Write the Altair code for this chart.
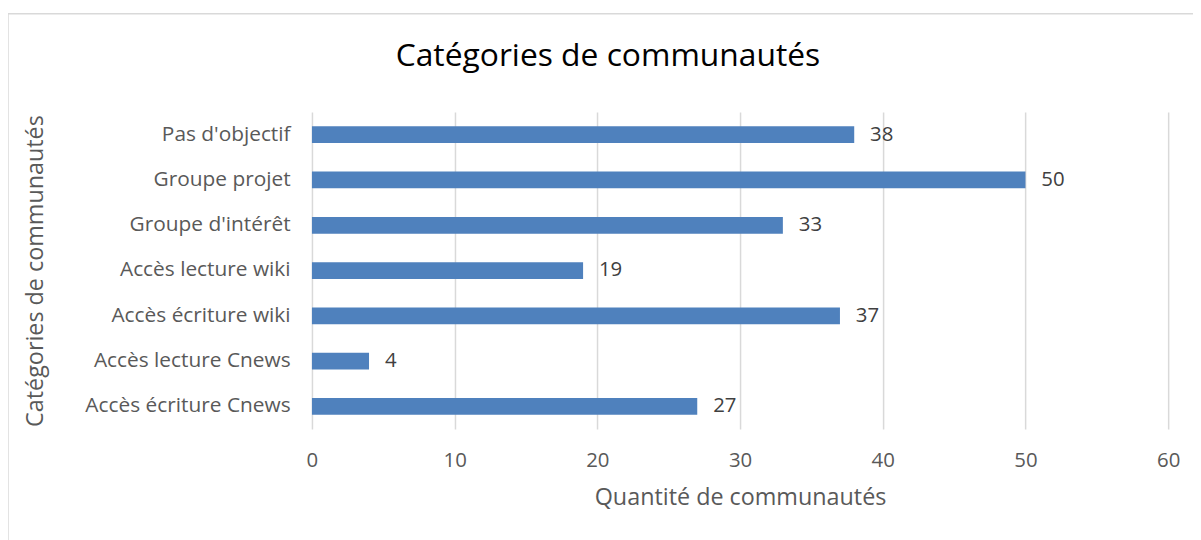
import altair as alt
import pandas as pd

categories = ["Pas d'objectif", "Groupe projet", "Groupe d'intérêt", "Accès lecture wiki",
              "Accès écriture wiki", "Accès lecture Cnews", "Accès écriture Cnews"]
values = [38, 50, 33, 19, 37, 4, 27]
x_ticks = [0, 10, 20, 30, 40, 50, 60]
title_text = "Catégories de communautés"

df = pd.DataFrame({"cat": categories, "val": values})

FONT = "Open Sans"
GRAY = "#595959"

base = alt.Chart(df).encode(
    y=alt.Y("cat:N", sort=categories, scale=alt.Scale(paddingInner=0.63, paddingOuter=0.315),
            axis=alt.Axis(title="Catégories de communautés", titleFontSize=23.5, titleFont=FONT,
                          titleFontWeight="normal", titleColor=GRAY, labelFontSize=21,
                          labelFont=FONT, labelColor=GRAY, labelPadding=22, labelLimit=400,
                          ticks=False, domain=False, grid=False, titlePadding=66)),
)

bars = base.mark_bar(color="#4F81BD").encode(
    x=alt.X("val:Q", scale=alt.Scale(domain=[0, 60], nice=False),
            axis=alt.Axis(values=x_ticks, title="Quantité de communautés", titleFontSize=23.5,
                          titleFont=FONT, titleFontWeight="normal", titleColor=GRAY,
                          labelFontSize=20.5, labelFont=FONT, labelColor=GRAY, labelPadding=22,
                          labelFlush=False, ticks=False, domain=False, grid=True,
                          gridColor="#D9D9D9", gridWidth=1.5, titlePadding=15))
)

labels = base.mark_text(align="left", dx=16, fontSize=20.5, font=FONT, color="#404040").encode(
    x="val:Q", text="val:Q"
)

one = alt.Data(values=[{"t": title_text}])
title_mark = alt.Chart(one).mark_text(fontSize=32, font=FONT, color="#000000",
                                      align="center", baseline="middle").encode(
    x=alt.value(298), y=alt.value(-56), text="t:N"
)
top_border = alt.Chart(one).mark_rule(color="#D9D9D9", strokeWidth=1.5).encode(
    x=alt.value(-306), x2=alt.value(950), y=alt.value(-99)
)
left_border = alt.Chart(one).mark_rule(color="#D9D9D9", strokeWidth=1.5).encode(
    x=alt.value(-306), y=alt.value(-99), y2=alt.value(450)
)

chart = alt.layer(bars, labels, title_mark, top_border, left_border).properties(
    width=862, height=319,
    autosize=alt.AutoSizeParams(type="none"),
    padding={"left": 306, "top": 103, "right": 25, "bottom": 110},
).configure_view(stroke=None)

chart.save("out.html", embed_options={"renderer": "svg", "actions": False})
